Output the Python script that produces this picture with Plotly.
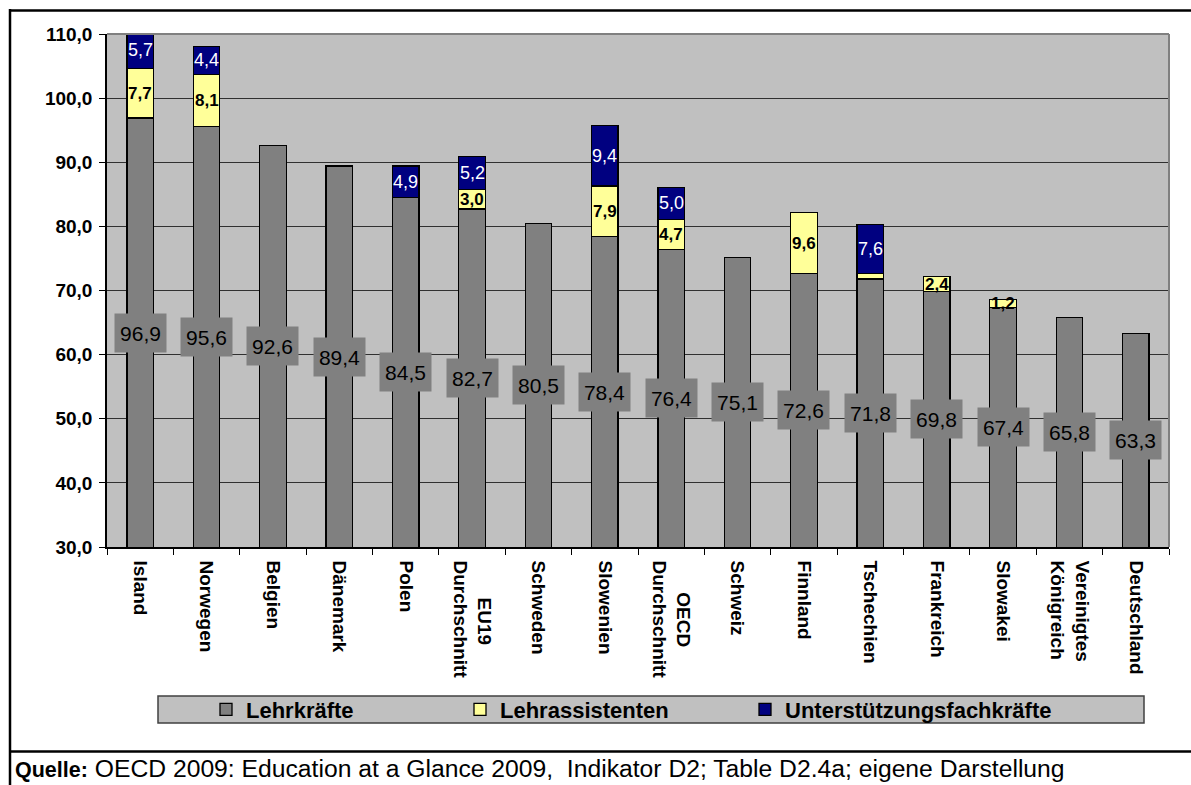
import plotly.graph_objects as go

categories = ["Island", "Norwegen", "Belgien", "Dänemark", "Polen", "EU19<br>Durchschnitt",
              "Schweden", "Slowenien", "OECD<br>Durchschnitt", "Schweiz", "Finnland",
              "Tschechien", "Frankreich", "Slowakei", "Vereinigtes<br>Königreich", "Deutschland"]
# tick labels as displayed (short first lines centred against the longer second line)
tick_labels = ["Island", "Norwegen", "Belgien", "Dänemark", "Polen",
               "\u00a0" * 7 + "EU19<br>Durchschnitt",
               "Schweden", "Slowenien", "\u00a0" * 6 + "OECD<br>Durchschnitt", "Schweiz", "Finnland",
               "Tschechien", "Frankreich", "Slowakei", "Vereinigtes<br>Königreich", "Deutschland"]
lehrkraefte = [96.9, 95.6, 92.6, 89.4, 84.5, 82.7, 80.5, 78.4, 76.4, 75.1, 72.6, 71.8, 69.8, 67.4, 65.8, 63.3]
lehrassistenten = [7.7, 8.1, 0, 0, 0, 3.0, 0, 7.9, 4.7, 0, 9.6, 0.9, 2.4, 1.2, 0, 0]
unterstuetzung = [5.7, 4.4, 0, 0, 4.9, 5.2, 0, 9.4, 5.0, 0, 0, 7.6, 0, 0, 0, 0]
y_ticks = [30, 40, 50, 60, 70, 80, 90, 100, 110]

Y_MIN, Y_MAX = 30, 110
W, H = 1191, 785
ML, MR, MT, MB = 107, 22, 34, 238
PW, PH = W - ML - MR, H - MT - MB


def px2x(px):
    return (px - ML) / PW


def px2y(py):
    return (H - MB - py) / PH


def fmt(v):
    return f"{v:.1f}".replace(".", ",")


FONT = "Liberation Sans, Arial, sans-serif"
line = dict(color="black", width=1.3)

fig = go.Figure()
fig.add_trace(go.Bar(x=categories, y=lehrkraefte, name="Lehrkräfte", legend="legend",
                     marker=dict(color="#808080", line=line)))
fig.add_trace(go.Bar(x=categories, y=lehrassistenten, name="Lehrassistenten", legend="legend2",
                     marker=dict(color="#FFFF99", line=line)))
fig.add_trace(go.Bar(x=categories, y=unterstuetzung, name="Unterstützungsfachkräfte", legend="legend3",
                     marker=dict(color="#000080", line=line)))

ann = []
for c, l, a, u in zip(categories, lehrkraefte, lehrassistenten, unterstuetzung):
    ann.append(dict(x=c, y=(Y_MIN + l) / 2, xref="x", yref="y", text=fmt(l),
                    showarrow=False, bgcolor="#808080", borderpad=4, width=43, height=30,
                    font=dict(family=FONT, size=21, color="black")))
    if a >= 1:
        ann.append(dict(x=c, y=l + a / 2, xref="x", yref="y", text=f"<b>{fmt(a)}</b>",
                        showarrow=False, font=dict(family=FONT, size=17, color="black")))
    if u >= 1:
        ann.append(dict(x=c, y=l + a + u / 2, xref="x", yref="y", text=fmt(u),
                        showarrow=False, font=dict(family=FONT, size=18, color="white")))

ann.append(dict(x=px2x(13), y=px2y(769), xref="paper", yref="paper", xanchor="left",
                yanchor="middle", showarrow=False, align="left",
                text="<b style='font-size:21.5px'>Quelle:</b> OECD 2009: Education at a Glance 2009,\u00a0 Indikator D2; Table D2.4a; eigene Darstellung",
                font=dict(family=FONT, size=24.7, color="black")))

shapes = [
    # legend box
    dict(type="rect", xref="paper", yref="paper", x0=px2x(158), x1=px2x(1144),
         y0=px2y(696), y1=px2y(723), fillcolor="#C0C0C0", line=dict(color="#404040", width=1.5),
         layer="below"),
    # outer frame
    dict(type="line", xref="paper", yref="paper", x0=px2x(9), x1=px2x(1195), y0=px2y(10.5), y1=px2y(10.5),
         line=dict(color="black", width=2.5)),
    dict(type="line", xref="paper", yref="paper", x0=px2x(10), x1=px2x(10), y0=px2y(9), y1=px2y(790),
         line=dict(color="black", width=2.5)),
    dict(type="line", xref="paper", yref="paper", x0=px2x(9), x1=px2x(1195), y0=px2y(751.5), y1=px2y(751.5),
         line=dict(color="black", width=2.5)),
    # plot area top/right border
    dict(type="line", xref="paper", yref="paper", x0=0, x1=1, y0=1, y1=1,
         line=dict(color="#808080", width=2)),
    dict(type="line", xref="paper", yref="paper", x0=1, x1=1, y0=0, y1=1,
         line=dict(color="#808080", width=2)),
]


def legend_at(marker_px):
    return dict(orientation="h", x=px2x(marker_px - 21), xanchor="left", y=px2y(709.5),
                yanchor="middle", bgcolor="rgba(0,0,0,0)",
                font=dict(family=FONT, size=22, color="black", weight="bold"),
                itemclick=False, itemdoubleclick=False)


fig.update_layout(
    width=W, height=H,
    margin=dict(l=ML, r=MR, t=MT, b=MB),
    paper_bgcolor="white", plot_bgcolor="#C0C0C0",
    barmode="stack", bargap=0.6,
    separators=",.",
    font=dict(family=FONT, color="black"),
    showlegend=True,
    legend=legend_at(227),
    legend2=legend_at(481),
    legend3=legend_at(766),
    annotations=ann,
    shapes=shapes,
    xaxis=dict(tickangle=90, ticks="outside", tickson="boundaries", ticklen=6, tickcolor="black",
               tickmode="array", tickvals=categories, ticktext=tick_labels, ticklabelstandoff=8,
               showline=True, linecolor="black", linewidth=1.5, showgrid=False,
               tickfont=dict(family=FONT, size=19, color="black", weight="bold")),
    yaxis=dict(range=[Y_MIN, Y_MAX], tickvals=y_ticks, tickformat=".1f", ticks="outside", ticklen=6,
               tickcolor="black", showline=True, linecolor="black", linewidth=1.5, ticklabelstandoff=3,
               showgrid=True, gridcolor="#303030", gridwidth=1.2, zeroline=False,
               tickfont=dict(family=FONT, size=19, color="black", weight="bold")),
)

fig.write_html("out.html")
